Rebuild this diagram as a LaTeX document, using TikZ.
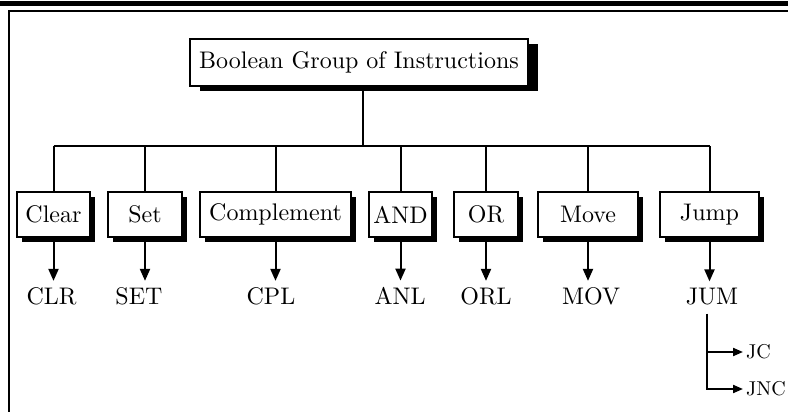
\documentclass[tikz,border=0pt]{standalone}
\usepackage{fontspec}
\setmainfont{lmroman10-regular}[Extension=.otf]
\usetikzlibrary{arrows.meta,shadows}
\begin{document}
\begin{tikzpicture}[x=1pt,y=-1pt,
  every node/.style={font=\fontsize{24}{28}\selectfont, inner sep=0pt},
  catbox/.style={draw=black, line width=2pt, fill=white,
    minimum height=45pt,
    drop shadow={shadow xshift=4.5pt, shadow yshift=-4.5pt, fill=black, opacity=1}},
  titlebox/.style={draw=black, line width=2pt, fill=white,
    minimum width=338pt, minimum height=47pt,
    drop shadow={shadow xshift=10pt, shadow yshift=-5pt, fill=black, opacity=1}},
  lbl/.style={anchor=base, inner xsep=0pt, inner ysep=6pt},
  small/.style={font=\fontsize{20}{23}\selectfont, anchor=west, inner xsep=3pt},
  wire/.style={line width=2pt},
  arr/.style={line width=2pt, -{Triangle[length=12pt,width=10pt]}},
  arrsmall/.style={line width=2pt, -{Triangle[length=10pt,width=8pt]}}
]
\useasboundingbox (0,0) rectangle (788,412);

% page rules
\draw[line width=4.5pt] (0,3.5) -- (788,3.5);
\draw[line width=2pt, line join=miter] (788,11) -- (9,11) -- (9,412);

% root
\node[titlebox] (title) at (359,62.5) {Boolean Group of Instructions};

% categories
\node[catbox, minimum width=73pt]  (clear) at (53.5,214.5) {Clear};
\node[catbox, minimum width=74pt]  (set)   at (145,214.5)  {Set};
\node[catbox, minimum width=151pt] (compl) at (275.5,214.5) {Complement};
\node[catbox, minimum width=63pt]  (and)   at (400.5,214.5) {AND};
\node[catbox, minimum width=64pt]  (or)    at (486,214.5)  {OR};
\node[catbox, minimum width=100pt] (move)  at (588,214.5)  {Move};
\node[catbox, minimum width=99pt]  (jump)  at (709.5,214.5) {Jump};

% mnemonics
\node[lbl] (clr) at (51.5,304) {CLR};
\node[lbl] (setm) at (139,304) {SET};
\node[lbl] (cpl) at (271,304) {CPL};
\node[lbl] (anl) at (400,304) {ANL};
\node[lbl] (orl) at (486,304) {ORL};
\node[lbl] (mov) at (591,304) {MOV};
\node[lbl] (jum) at (712,304) {JUM};

\node[small] (jc)  at (743,352) {JC};
\node[small] (jnc) at (743,389) {JNC};

% tree wiring
\coordinate (bus) at (0,146);
\draw[wire] ([xshift=4pt]title.south) -- ([xshift=4pt]title.south |- bus);
\draw[wire] (clear.north |- bus) -- (jump.north |- bus);
\foreach \b in {clear,set,compl,and,or,move,jump}
  \draw[wire] (\b.north) -- (\b.north |- bus);

% arrows to mnemonics
\draw[arr] ([yshift=-2pt]clear.south) -- (clear.south |- clr.north);
\draw[arr] ([yshift=-2pt]set.south) -- (set.south |- setm.north);
\draw[arr] ([yshift=-2pt]compl.south) -- (compl.south |- cpl.north);
\draw[arr] ([yshift=-2pt]and.south) -- (and.south |- anl.north);
\draw[arr] ([yshift=-2pt]or.south) -- (or.south |- orl.north);
\draw[arr] ([yshift=-2pt]move.south) -- (move.south |- mov.north);
\draw[arr] ([yshift=-2pt]jump.south) -- (jump.south |- jum.north);

% jump variants
\draw[arrsmall, line join=miter] ([xshift=-5pt,yshift=-3pt]jum.south) |- (jnc.west);
\draw[arrsmall] ([xshift=-5pt]jum.south |- jc.west) -- (jc.west);
\end{tikzpicture}
\end{document}
